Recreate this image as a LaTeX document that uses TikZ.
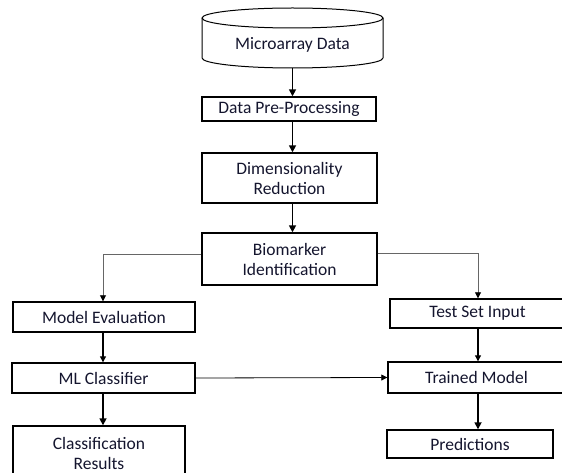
\documentclass[tikz,border=0pt]{standalone}
\usepackage{fontspec}
\setmainfont{Carlito}
\usepackage{tikz}
\usetikzlibrary{arrows.meta}
\definecolor{txtblue}{HTML}{14152E}

\begin{document}
\begin{tikzpicture}[x=1pt, y=-1pt,
    font=\fontsize{17.5}{20}\selectfont, text=txtblue,
    stage/.style={draw=black, line width=1.4pt, inner sep=0pt, align=center},
    mainflow/.style={line width=1.6pt, -{Triangle[length=7pt, width=7pt]}},
    sideflow/.style={line width=1.1pt, -{Triangle[length=6pt, width=6pt]}},
    branch/.style={line width=0.8pt, draw=black!60, -{Triangle[length=6pt, width=6pt, black]}}]

    % page frame, same size as the reference
    \useasboundingbox (0,0) rectangle (562,473);

    % 1. The data source (cylinder drawn by hand)
    \draw[line width=1pt] (292.5,18) ellipse[x radius=90.5, y radius=10];
    \draw[line width=1pt] (202,18) -- (202,58) arc[start angle=180, end angle=0, x radius=90.5, y radius=10] -- (383,18);
    \node (data) at (292.5,45) {Microarray Data};
    \coordinate (dataout) at (292.5,68);

    % 2. Main column
    \node[stage, minimum width=174pt, minimum height=24pt] (prep) at (289,109) {Data Pre-Processing};
    \node[stage, minimum width=175pt, minimum height=50pt] (dimred) at (289.5,178) {Dimensionality\\Reduction};
    \node[stage, minimum width=175pt, minimum height=52pt] (bio) at (289.5,259) {Biomarker\\Identification};

    % 3. Left branch
    \node[stage, minimum width=182pt, minimum height=30pt] (modeleval) at (104,317) {Model Evaluation};
    \node[stage, minimum width=183pt, minimum height=30pt] (mlclass) at (103.5,378) {ML Classifier};
    \node[stage, minimum width=172pt, minimum height=54pt] (classres) at (99,453) {Classification\\Results};

    % 4. Right branch
    \node[stage, minimum width=175pt, minimum height=29pt] (testset) at (477.5,313.5) {Test Set Input};
    \node[stage, minimum width=177pt, minimum height=31pt] (trained) at (476.5,377.5) {Trained Model};
    \node[stage, minimum width=166pt, minimum height=28pt] (predict) at (470,444) {Predictions};

    % 5. Connectors
    \draw[mainflow] (dataout) -- (dataout |- prep.north);
    \draw[mainflow] (prep.south -| dataout) -- (dimred.north -| dataout);
    \draw[mainflow] (dimred.south -| dataout) -- (bio.north -| dataout);

    \draw[branch] (bio.west |- 0,254) -| (modeleval.north -| 103,0);
    \draw[branch] (bio.east |- 0,253) -| (testset.north -| 478,0);

    \draw[sideflow] (modeleval.south -| 103,0) -- (mlclass.north -| 103,0);
    \draw[mainflow] (mlclass.south -| 103,0) -- (classres.north -| 103,0);
    \draw[sideflow] (testset.south -| 478,0) -- (trained.north -| 478,0);
    \draw[mainflow] (trained.south -| 478,0) -- (predict.north -| 478,0);

    \draw[line width=0.8pt, -{Triangle[length=6pt, width=6pt]}] (mlclass.east) -- (trained.west);

\end{tikzpicture}
\end{document}
